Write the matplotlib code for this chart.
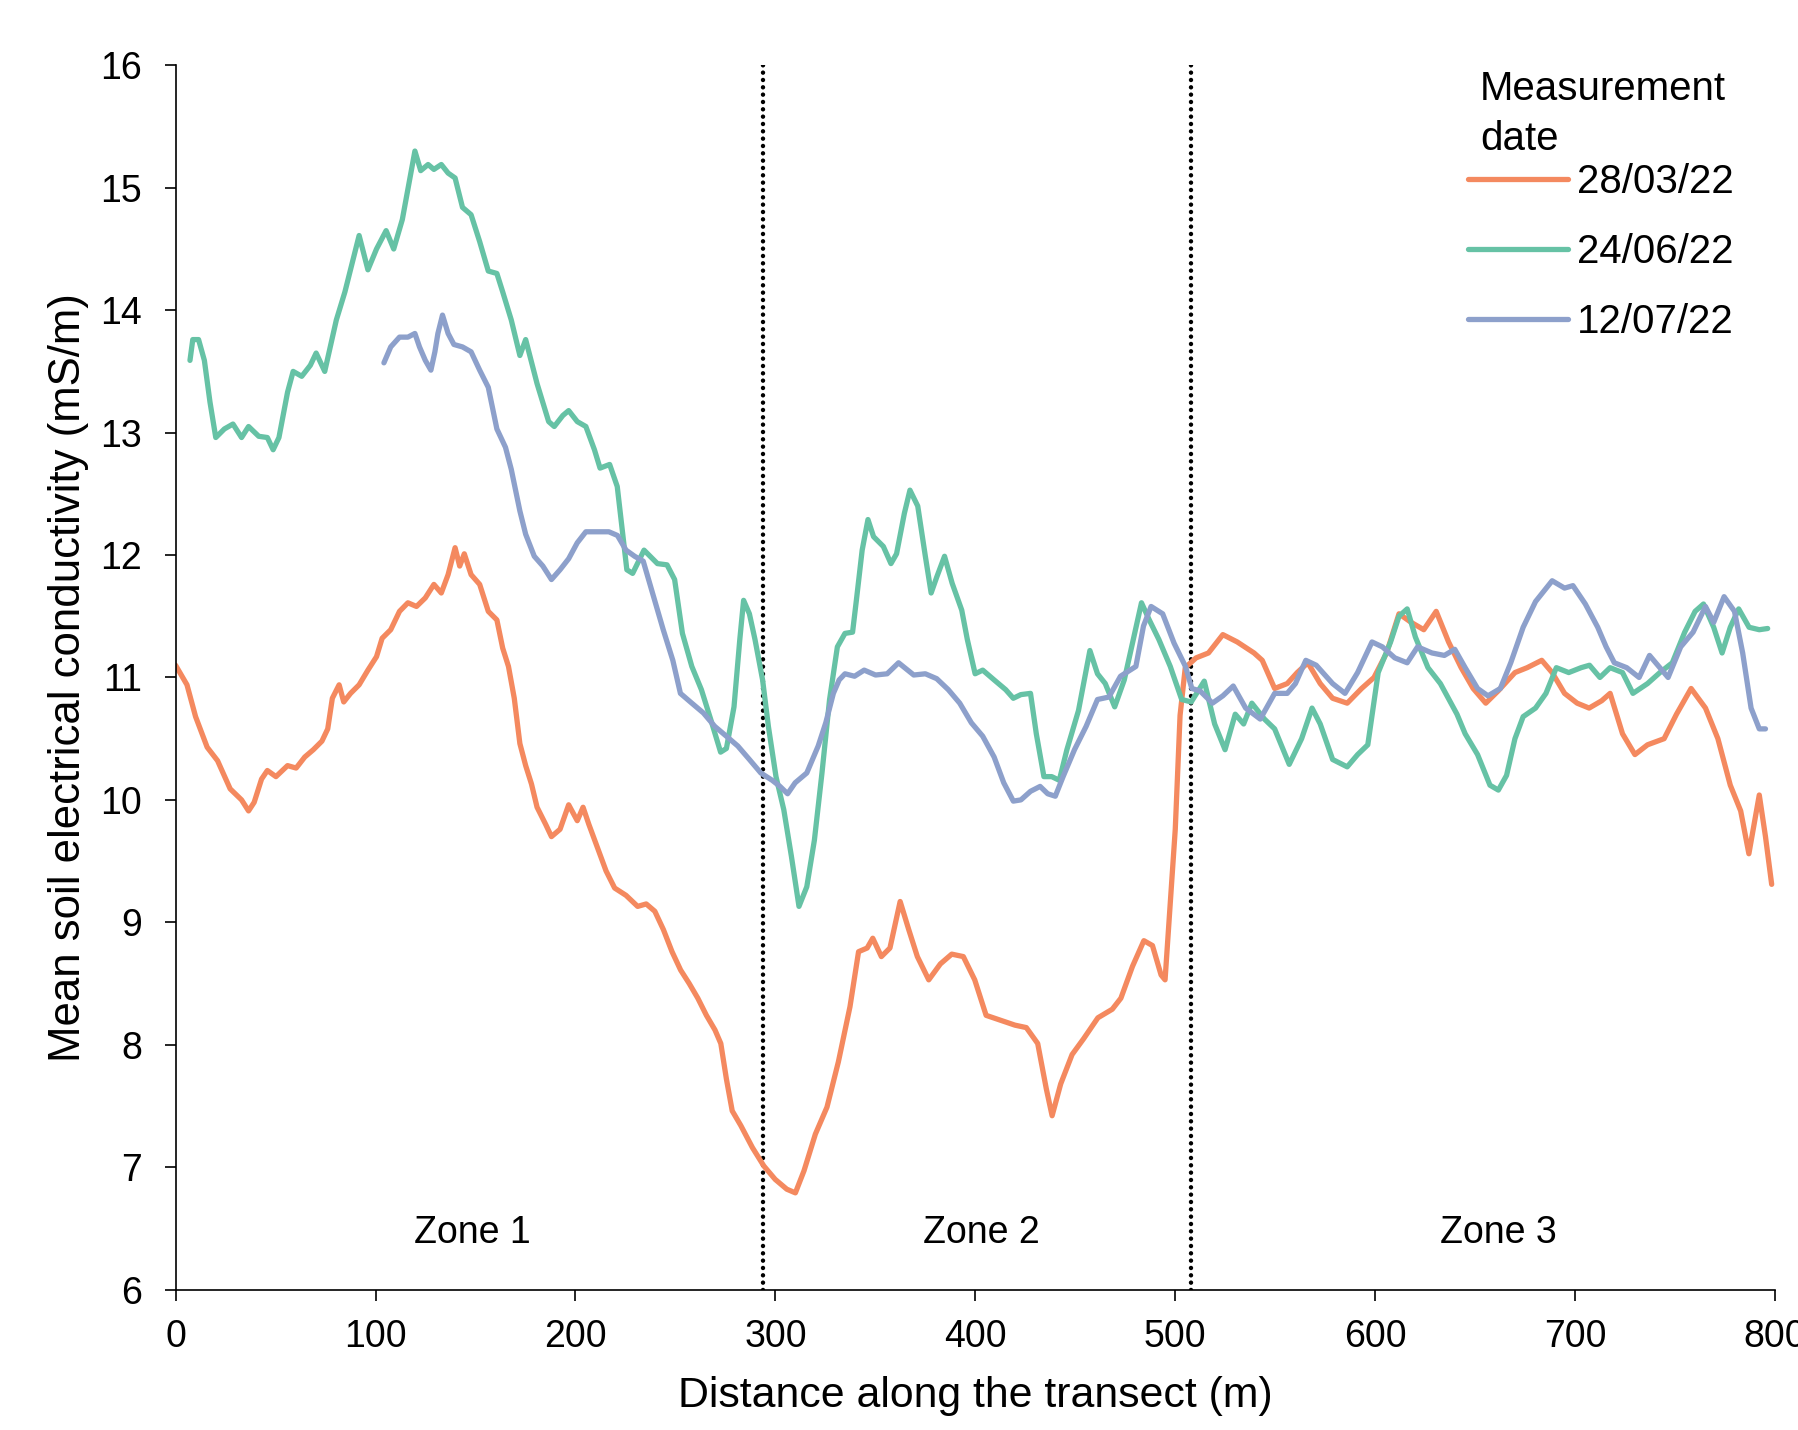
import matplotlib
matplotlib.use("Agg")
import matplotlib.pyplot as plt

plt.rcParams['font.family'] = ['Liberation Sans', 'DejaVu Sans']

# ---- data ----
dates = ["28/03/22", "24/06/22", "12/07/22"]
colors = ["#F4895F", "#66C2A5", "#8DA0CB"]

x_0328 = [0, 5.7, 10, 15.8, 21, 27.3, 33, 36.5, 39.3, 43, 45.9, 50.2, 56, 60.3, 64.6, 68.9, 73.2, 76.1,
          78.4, 81.8, 84.1, 87.5, 91.8, 96.2, 100.5, 103.3, 107.6, 112, 116.2, 120.5, 124.9, 129.2, 132.9,
          136.3, 139.8, 142.1, 144.4, 147.8, 152.1, 156.4, 160.7, 163.6, 166.5, 169.4, 172.2, 175.1, 178,
          180.8, 185.1, 188, 192.3, 196.6, 200.9, 203.8, 206.7, 211, 215.3, 219.6, 225.3, 231.1, 235.4,
          239.7, 244, 248.3, 252.6, 256.9, 261.2, 265.5, 269.8, 272.7, 275.5, 278.4, 282.7, 288.5, 294.2,
          299.9, 305.7, 310, 314.3, 320, 325.8, 331.5, 337.3, 341.6, 345.9, 348.7, 353, 357.3, 362.4,
          366.7, 371, 376.7, 382.5, 388.2, 394, 399.7, 405.4, 412.6, 419.8, 425.5, 431.2, 435.5, 438.4,
          442.7, 448.4, 454.2, 461.3, 468.5, 472.8, 478.6, 484.3, 488.6, 492.9, 494.9, 497.2, 500, 502.4,
          505, 510.4, 516.6, 523.8, 531, 539.4, 543.5, 549.7, 556, 561, 566.3, 572.5, 578.7, 586, 593.2,
          599.4, 605.7, 611.9, 618, 624.3, 630.5, 636.7, 643, 649, 655.3, 661.5, 669.9, 676, 683.3, 688.5,
          694.7, 701, 707, 713.3, 717.5, 723.7, 729.9, 736.2, 744.5, 750.7, 758, 765.2, 771.4, 777.6,
          782.8, 786.9, 792.1, 795.2, 798.3]
y_0328 = [11.1, 10.94, 10.68, 10.43, 10.32, 10.09, 10.0, 9.91, 9.98, 10.17, 10.24, 10.19, 10.28, 10.26,
          10.35, 10.41, 10.48, 10.58, 10.83, 10.94, 10.80, 10.87, 10.94, 11.06, 11.17, 11.32, 11.39,
          11.54, 11.61, 11.58, 11.65, 11.76, 11.69, 11.84, 12.06, 11.91, 12.01, 11.84, 11.76, 11.54,
          11.47, 11.24, 11.09, 10.83, 10.46, 10.28, 10.13, 9.94, 9.80, 9.70, 9.76, 9.96, 9.83, 9.94, 9.80,
          9.61, 9.42, 9.28, 9.22, 9.13, 9.15, 9.09, 8.94, 8.76, 8.61, 8.50, 8.38, 8.24, 8.12, 8.01, 7.72,
          7.46, 7.34, 7.16, 7.01, 6.90, 6.82, 6.79, 6.97, 7.27, 7.49, 7.86, 8.31, 8.76, 8.79, 8.87, 8.72,
          8.79, 9.17, 8.94, 8.72, 8.53, 8.66, 8.74, 8.72, 8.53, 8.24, 8.20, 8.16, 8.14, 8.01, 7.64, 7.42,
          7.68, 7.92, 8.05, 8.22, 8.29, 8.38, 8.64, 8.85, 8.81, 8.57, 8.53, 9.09, 9.76, 10.69, 11.08,
          11.16, 11.2, 11.35, 11.29, 11.2, 11.14, 10.91, 10.95, 11.04, 11.12, 10.95, 10.83, 10.79, 10.91,
          11.0, 11.2, 11.52, 11.45, 11.39, 11.54, 11.29, 11.08, 10.91, 10.79, 10.89, 11.04, 11.08, 11.14,
          11.04, 10.87, 10.79, 10.75, 10.81, 10.87, 10.54, 10.37, 10.45, 10.5, 10.7, 10.91, 10.75, 10.5,
          10.12, 9.91, 9.56, 10.04, 9.7, 9.31]

x_0624 = [7.2, 8.6, 11.5, 14.4, 17.2, 20.1, 24.4, 28.7, 33, 36.5, 41.6, 45.9, 48.8, 51.7, 56, 58.8, 63.1,
          67.4, 70.3, 74.6, 80.4, 84.7, 88.1, 91.8, 96.2, 100.5, 105.3, 109.1, 113.4, 116.8, 119.7, 122.6,
          126.3, 129.2, 132.9, 136.3, 139.8, 143.5, 147.8, 152.1, 156.4, 160.7, 163.6, 167.9, 172.2, 175.1,
          180.8, 186.6, 189.4, 193.7, 196.6, 200.9, 205.2, 209.5, 212.3, 217.1, 220.9, 225.7, 228.6, 234.3,
          241, 245.8, 249.6, 253.5, 258.2, 263, 267.8, 272.6, 275.5, 279.3, 282.2, 284.1, 287, 289.8,
          293.6, 296.5, 300.3, 304.2, 308, 311.8, 315.7, 319.5, 323.3, 327.1, 331, 334.8, 338.6, 340.5,
          343.4, 346.3, 349.1, 354, 357.8, 360.6, 364.5, 367.3, 371.2, 375, 377.9, 380.7, 384.6, 388.4,
          393.2, 396, 399.9, 403.7, 409.4, 415.2, 419, 422.8, 427.6, 430.5, 434.3, 438.2, 442, 445.8,
          451.6, 457.3, 461.1, 465, 469.7, 474.5, 479.3, 483.1, 487, 491.8, 497.5, 503.2, 508, 514.5,
          519.7, 524.9, 530, 534.2, 538.3, 544.6, 549.7, 557, 563.2, 568.4, 572.5, 578.7, 586, 591.2,
          596.3, 601.5, 607.7, 611.9, 616, 620.1, 626.4, 632.6, 640.9, 645, 651.2, 657.4, 661.6, 665.7,
          669.9, 674, 680.2, 685.4, 690.6, 696.8, 703, 707.2, 712.4, 717.5, 723.7, 728.9, 736.2, 742.4,
          748.6, 754.8, 760, 764.2, 769.3, 773.5, 777.6, 781.8, 787, 792.1, 796.3]
y_0624 = [13.59, 13.76, 13.76, 13.59, 13.25, 12.96, 13.03, 13.07, 12.96, 13.05, 12.97, 12.96, 12.86,
          12.96, 13.33, 13.5, 13.46, 13.55, 13.65, 13.5, 13.92, 14.15, 14.37, 14.61, 14.33, 14.5, 14.65,
          14.5, 14.74, 15.04, 15.3, 15.14, 15.19, 15.15, 15.19, 15.12, 15.08, 14.84, 14.78, 14.56, 14.32,
          14.3, 14.15, 13.92, 13.63, 13.76, 13.4, 13.09, 13.05, 13.14, 13.18, 13.09, 13.05, 12.86, 12.71,
          12.74, 12.56, 11.88, 11.85, 12.04, 11.93, 11.92, 11.80, 11.36, 11.09, 10.90, 10.65, 10.39,
          10.42, 10.76, 11.31, 11.63, 11.52, 11.31, 10.98, 10.60, 10.19, 9.92, 9.54, 9.13, 9.29, 9.67,
          10.22, 10.82, 11.25, 11.36, 11.37, 11.63, 12.04, 12.29, 12.15, 12.07, 11.93, 12.01, 12.34,
          12.53, 12.40, 11.99, 11.69, 11.82, 11.99, 11.77, 11.55, 11.31, 11.03, 11.06, 10.98, 10.90,
          10.83, 10.86, 10.87, 10.54, 10.19, 10.19, 10.16, 10.41, 10.73, 11.22, 11.03, 10.95, 10.76,
          10.98, 11.33, 11.61, 11.47, 11.31, 11.09, 10.82, 10.80, 10.97, 10.62, 10.41, 10.7, 10.62,
          10.79, 10.66, 10.58, 10.29, 10.5, 10.75, 10.62, 10.33, 10.27, 10.37, 10.45, 11.04, 11.29,
          11.5, 11.56, 11.33, 11.08, 10.95, 10.7, 10.54, 10.37, 10.12, 10.08, 10.2, 10.5, 10.68, 10.75,
          10.87, 11.08, 11.04, 11.08, 11.1, 11.0, 11.08, 11.04, 10.87, 10.95, 11.04, 11.12, 11.37,
          11.54, 11.6, 11.41, 11.2, 11.41, 11.56, 11.41, 11.39, 11.4]

x_0712 = [104.2, 107.6, 112, 116.2, 119.7, 122, 124.9, 127.7, 129.7, 131.2, 133.5, 136.3, 139.2, 143.5,
          147.8, 152.1, 156.4, 160.7, 165, 167.9, 172.2, 175.1, 179.4, 183.7, 188, 192.3, 196.6, 200.9,
          205.2, 211, 216.7, 221, 225.3, 229.6, 233.9, 239.1, 243.9, 248.7, 252.5, 258.2, 264, 269.7,
          275.5, 281.2, 287, 292.7, 298.4, 302.3, 306.1, 309.9, 315.7, 321.4, 325.2, 329, 331.9, 334.8,
          339.6, 344.4, 350.1, 355.9, 361.6, 365.4, 369.2, 375, 380.7, 386.5, 392.2, 398, 403.7, 409.4,
          414.2, 419, 422.8, 427.6, 432.4, 436.2, 440, 443.9, 449.6, 455.4, 461.1, 466.8, 472.6, 480.3,
          484.1, 487.9, 493.7, 499.4, 505.1, 508.3, 512.4, 518.6, 523.8, 529, 535.2, 542.5, 549.7, 556,
          560.1, 565.3, 570.5, 578.7, 584.9, 591.2, 598.4, 603.6, 609.8, 616, 621.2, 628.4, 634.6, 639.8,
          645, 651.2, 656.4, 662.6, 667.8, 674, 680.2, 688.5, 694.7, 698.9, 705.1, 711.3, 715.5, 719.6,
          725.8, 732, 737.2, 742.4, 746.5, 752.8, 759, 765.2, 769.3, 774.5, 779.7, 783.8, 788, 792.1,
          795.2]
y_0712 = [13.57, 13.70, 13.78, 13.78, 13.81, 13.70, 13.59, 13.51, 13.66, 13.81, 13.96, 13.81, 13.72,
          13.70, 13.66, 13.51, 13.37, 13.03, 12.88, 12.70, 12.36, 12.17, 11.99, 11.91, 11.80, 11.88,
          11.97, 12.10, 12.19, 12.19, 12.19, 12.16, 12.04, 11.99, 11.95, 11.66, 11.39, 11.14, 10.87,
          10.79, 10.71, 10.6, 10.52, 10.44, 10.33, 10.22, 10.16, 10.11, 10.05, 10.14, 10.22, 10.44,
          10.63, 10.87, 10.98, 11.03, 11.01, 11.06, 11.02, 11.03, 11.12, 11.07, 11.02, 11.03, 10.99,
          10.90, 10.79, 10.63, 10.52, 10.35, 10.14, 9.99, 10.0, 10.07, 10.11, 10.05, 10.03, 10.19,
          10.41, 10.6, 10.82, 10.84, 11.01, 11.09, 11.42, 11.58, 11.52, 11.28, 11.09, 10.91, 10.89,
          10.79, 10.85, 10.93, 10.75, 10.66, 10.87, 10.87, 10.95, 11.14, 11.1, 10.95, 10.87, 11.04,
          11.29, 11.25, 11.16, 11.12, 11.25, 11.2, 11.18, 11.23, 11.08, 10.91, 10.85, 10.91, 11.12,
          11.41, 11.62, 11.79, 11.73, 11.75, 11.6, 11.41, 11.25, 11.12, 11.08, 11.0, 11.18, 11.08, 11.0,
          11.25, 11.37, 11.58, 11.45, 11.66, 11.54, 11.2, 10.75, 10.58, 10.58]

zone_bounds = [294, 508]
zone_names = ["Zone 1", "Zone 2", "Zone 3"]
zone_label_x = [148.6, 402.8, 661.6]
zone_label_y = 6.46

x_ticks = [0, 100, 200, 300, 400, 500, 600, 700, 800]
y_ticks = [6, 7, 8, 9, 10, 11, 12, 13, 14, 15, 16]

# ---- figure ----
W, H = 1799, 1430
fig = plt.figure(figsize=(W / 100, H / 100), dpi=100)
ax = fig.add_axes([0.0976, 0.0982, 0.8891, 0.8561])

series = [(x_0328, y_0328), (x_0624, y_0624), (x_0712, y_0712)]
for (xs, ys), lab, c in zip(series, dates, colors):
    ax.plot(xs, ys, color=c, lw=3.8, label=lab, solid_joinstyle='round', solid_capstyle='round')

for b in zone_bounds:
    ax.plot([b, b], [6, 16], color='black', lw=3.2, linestyle=(0, (0.01, 1.64)),
            dash_capstyle='round', zorder=1)

for name, zx in zip(zone_names, zone_label_x):
    ax.text(zx, zone_label_y, name, ha='center', va='center', fontsize=27)

ax.set_xlim(0, 800)
ax.set_ylim(6, 16)
ax.set_xticks(x_ticks)
ax.set_yticks(y_ticks)
for s in ['top', 'right']:
    ax.spines[s].set_visible(False)
for s in ['left', 'bottom']:
    ax.spines[s].set_linewidth(1.2)
ax.tick_params(axis='both', length=8, width=1.2, labelsize=27)
ax.tick_params(axis='y', pad=16)
ax.tick_params(axis='x', pad=13)

ax.set_xlabel("Distance along the transect (m)", fontsize=30.8)
ax.set_ylabel("Mean soil electrical conductivity (mS/m)", fontsize=31.5)
ax.xaxis.set_label_coords(0.5, -0.071)
ax.yaxis.set_label_coords(-0.054, 0.5)

# legend title drawn as left-aligned text
fig.text(1480 / W, 1 - 100 / H, "Measurement", ha='left', va='baseline', fontsize=29)
fig.text(1480 / W, 1 - 150 / H, "date", ha='left', va='baseline', fontsize=29)

leg = ax.legend(loc='upper left',
                bbox_to_anchor=(1468 / W, 1 - 163 / H), bbox_transform=fig.transFigure,
                frameon=False, fontsize=29, handlelength=2.48,
                handletextpad=0.22, labelspacing=0.8, borderpad=0, borderaxespad=0)

fig.savefig("out.png", dpi=100)
